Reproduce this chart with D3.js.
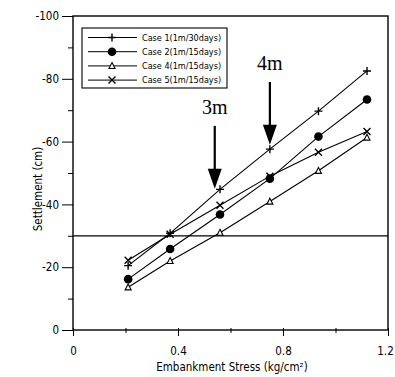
<!DOCTYPE html>
<html lang="en">
<head>
<meta charset="UTF-8">
<title>Settlement vs Embankment Stress</title>
<script src="https://d3js.org/d3.v7.min.js"></script>
<style>
  html, body { margin: 0; padding: 0; background: #fff; }
  svg { display: block; }
  .lbl { font-family: 'DejaVu Sans Condensed', sans-serif; font-size: 11.5px; fill: #000; }
  .leg { font-family: 'DejaVu Sans Condensed', sans-serif; font-size: 9px; fill: #000; }
  .note { font-family: 'Liberation Serif', 'DejaVu Serif', serif; font-size: 20px; fill: #000; }
</style>
</head>
<body>
<div id="chart"></div>
<script>
// data
var stress = [0.21, 0.37, 0.56, 0.75, 0.935, 1.12];
var case1 = [-20.5, -30.8, -44.8, -57.6, -69.7, -82.5];
var case2 = [-16.2, -25.8, -36.8, -48.2, -61.6, -73.4];
var case4 = [-13.6, -22.0, -31.0, -40.9, -50.7, -61.3];
var case5 = [-22.2, -30.5, -39.7, -49.0, -56.6, -63.2];
var seriesNames = ['Case 1(1m/30days)', 'Case 2(1m/15days)', 'Case 4(1m/15days)', 'Case 5(1m/15days)'];
var markers = ['plus', 'circle', 'triangle', 'cross'];
var xTicks = [0, 0.4, 0.8, 1.2];
var yTicks = [0, -20, -40, -60, -80, -100];
var refLine = -30;
var arrows = [{x: 0.54, label: '3m', from: -65, to: -45}, {x: 0.75, label: '4m', from: -79, to: -59}];

var W = 395, H = 377;
var svg = d3.select('#chart').append('svg').attr('width', W).attr('height', H);

var x = d3.scaleLinear().domain([0, 1.2]).range([73, 388]);
var y = d3.scaleLinear().domain([0, -100]).range([330, 16]);

var g = svg.append('g');

function isMajor(d, list) {
  return list.some(function(t) { return Math.abs(t - d) < 1e-6; });
}

// frame
g.append('rect')
  .attr('x', x(0)).attr('y', y(-100))
  .attr('width', x(1.2) - x(0)).attr('height', y(0) - y(-100))
  .attr('fill', 'none').attr('stroke', '#000').attr('stroke-width', 1.4);

// x axis
var xAxis = d3.axisBottom(x).tickValues(d3.range(0, 1.21, 0.2)).tickSize(4)
  .tickFormat(function(d) {
    if (Math.abs(d) < 1e-6) return '0';
    return isMajor(d, xTicks) ? d3.format('.1f')(d) : '';
  });
var xg = g.append('g').attr('transform', 'translate(0,' + y(0) + ')').call(xAxis);
xg.select('.domain').remove();
xg.selectAll('text').attr('class', 'lbl').attr('y', 17).attr('dy', '0.71em')
  .attr('dx', function(d) { return Math.abs(d - 1.2) < 1e-6 ? -3 : 0; });
xg.selectAll('.tick line').attr('y1', -2).attr('y2', function(d) { return isMajor(d, xTicks) ? 6 : 3; });

// y axis
var yAxis = d3.axisLeft(y).tickValues(d3.range(0, -101, -10)).tickSize(5)
  .tickFormat(function(d) { return yTicks.indexOf(d) >= 0 ? d : ''; });
var yg = g.append('g').attr('transform', 'translate(' + x(0) + ',0)').call(yAxis);
yg.select('.domain').remove();
yg.selectAll('text').attr('class', 'lbl').attr('x', -14);
yg.selectAll('.tick line').attr('x2', function(d) { return yTicks.indexOf(d) >= 0 ? -11 : -5; });

// axis titles
svg.append('text').attr('class', 'lbl').attr('text-anchor', 'middle')
  .attr('transform', 'translate(42,' + 189 + ') rotate(-90)')
  .text('Settlement (cm)');
svg.append('text').attr('class', 'lbl').attr('text-anchor', 'middle')
  .attr('x', 232).attr('y', 371)
  .text('Embankment Stress (kg/cm²)');

// reference line
g.append('line').attr('x1', x(0)).attr('x2', x(1.2)).attr('y1', y(refLine)).attr('y2', y(refLine))
  .attr('stroke', '#000').attr('stroke-width', 1.3);

// markers
function drawMarker(sel, type) {
  if (type === 'plus') {
    sel.append('path').attr('d', 'M-4,0H4M0,-4V4').attr('stroke', '#000').attr('stroke-width', 1.4);
  } else if (type === 'circle') {
    sel.append('circle').attr('r', 4.3).attr('fill', '#000');
  } else if (type === 'triangle') {
    sel.append('path').attr('d', 'M0,-3.3L3,2.6H-3Z').attr('fill', '#fff').attr('stroke', '#000').attr('stroke-width', 1.1);
  } else {
    sel.append('path').attr('d', 'M-3.5,-3.5L3.5,3.5M-3.5,3.5L3.5,-3.5').attr('stroke', '#000').attr('stroke-width', 1.4);
  }
}

var allSeries = [case1, case2, case4, case5];
var line = d3.line().x(function(d) { return x(d[0]); }).y(function(d) { return y(d[1]); });

allSeries.forEach(function(vals, i) {
  var pts = stress.map(function(s, j) { return [s, vals[j]]; });
  g.append('path').attr('d', line(pts)).attr('fill', 'none').attr('stroke', '#000').attr('stroke-width', 1.1);
  pts.forEach(function(p) {
    var m = g.append('g').attr('transform', 'translate(' + x(p[0]) + ',' + y(p[1]) + ')');
    drawMarker(m, markers[i]);
  });
});

// arrows
arrows.forEach(function(a) {
  var ax = x(a.x), y1 = y(a.from), y2 = y(a.to);
  g.append('line').attr('x1', ax).attr('x2', ax).attr('y1', y1).attr('y2', y2 - 19)
    .attr('stroke', '#000').attr('stroke-width', 2.2);
  g.append('path').attr('d', 'M' + (ax - 7) + ',' + (y2 - 20) + 'L' + (ax + 7) + ',' + (y2 - 20) + 'L' + ax + ',' + y2 + 'Z')
    .attr('fill', '#000');
  g.append('text').attr('class', 'note').attr('text-anchor', 'middle')
    .attr('x', ax).attr('y', y1 - 12).text(a.label);
});

// legend
var lg = svg.append('g').attr('transform', 'translate(82,28)');
lg.append('rect').attr('width', 145).attr('height', 60).attr('fill', '#fff').attr('stroke', '#000').attr('stroke-width', 1.1);
seriesNames.forEach(function(n, i) {
  var ry = 9.5 + i * 14.2;
  lg.append('line').attr('x1', 6).attr('x2', 55).attr('y1', ry).attr('y2', ry).attr('stroke', '#000').attr('stroke-width', 1);
  drawMarker(lg.append('g').attr('transform', 'translate(30,' + ry + ')'), markers[i]);
  lg.append('text').attr('class', 'leg').attr('x', 60).attr('y', ry + 3.2).text(n);
});
</script>
</body>
</html>
